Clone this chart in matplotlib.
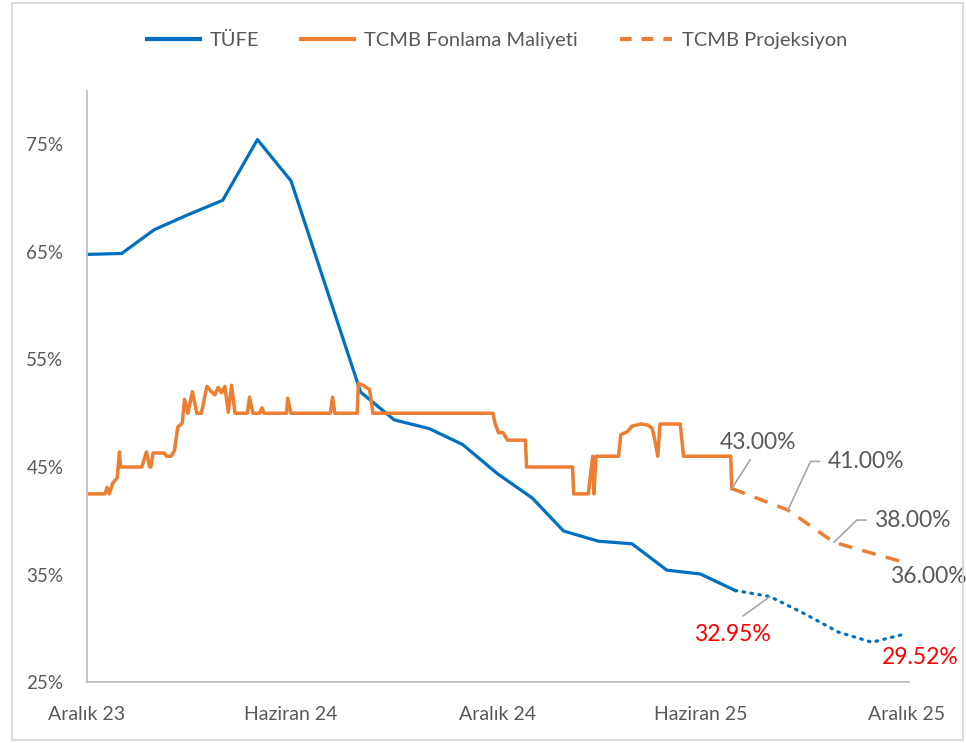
import matplotlib.pyplot as plt
import pandas as pd
from matplotlib.patches import Rectangle
from matplotlib.lines import Line2D

plt.rcParams['font.family'] = ['Lato', 'DejaVu Sans']

# TÜFE (yıllık, ay sonu)
tufe_dates = pd.date_range('2023-12-31', '2025-07-31', freq='ME')
tufe_values = [64.77, 64.86, 67.07, 68.50, 69.80, 75.45, 71.60, 61.78, 51.97, 49.38,
               48.58, 47.09, 44.38, 42.12, 39.05, 38.10, 37.86, 35.41, 35.05, 33.52]

# TÜFE beklenti (noktalı)
tufe_proj_dates = pd.date_range('2025-07-31', '2025-12-31', freq='ME')
tufe_proj_values = [33.52, 32.95, 31.40, 29.65, 28.70, 29.52]

# TCMB ağırlıklı ortalama fonlama maliyeti (günlük)
fonlama_dates = [
    '2023-12-31', '2024-01-16', '2024-01-18', '2024-01-20', '2024-01-23', '2024-01-27',
    '2024-01-29', '2024-01-30', '2024-02-18', '2024-02-22', '2024-02-25', '2024-02-26',
    '2024-02-28', '2024-03-09', '2024-03-11', '2024-03-15', '2024-03-18', '2024-03-21',
    '2024-03-25', '2024-03-27', '2024-03-30', '2024-04-03', '2024-04-07', '2024-04-11',
    '2024-04-16', '2024-04-20', '2024-04-23', '2024-04-26', '2024-04-29', '2024-05-02',
    '2024-05-05', '2024-05-08', '2024-05-11', '2024-05-22', '2024-05-24', '2024-05-27',
    '2024-06-02', '2024-06-04', '2024-06-06', '2024-06-26', '2024-06-27', '2024-06-30',
    '2024-08-04', '2024-08-06', '2024-08-08', '2024-08-28', '2024-08-29', '2024-09-02',
    '2024-09-08', '2024-09-11', '2024-12-27', '2024-12-29', '2025-01-01', '2025-01-05',
    '2025-01-09', '2025-01-25', '2025-01-26', '2025-03-08', '2025-03-09', '2025-03-22',
    '2025-03-26', '2025-03-27', '2025-03-29', '2025-04-18', '2025-04-20', '2025-04-26',
    '2025-04-30', '2025-05-08', '2025-05-14', '2025-05-18', '2025-05-20', '2025-05-23',
    '2025-05-25', '2025-06-12', '2025-06-15', '2025-07-27', '2025-07-28']
fonlama_values = [
    42.5, 42.5, 43.1, 42.5, 43.5, 44.0,
    46.4, 45.0, 45.0, 46.4, 45.0, 45.0,
    46.3, 46.3, 46.0, 46.0, 46.5, 48.7,
    49.1, 51.3, 50.0, 52.0, 50.0, 50.0,
    52.5, 52.0, 51.7, 52.4, 51.9, 52.5,
    50.1, 52.6, 50.0, 50.0, 51.5, 50.0,
    50.0, 50.5, 50.0, 50.0, 51.4, 50.0,
    50.0, 51.5, 50.0, 50.0, 52.8, 52.6,
    52.2, 50.0, 50.0, 49.0, 48.2, 48.2,
    47.5, 47.5, 45.0, 45.0, 42.5, 42.5,
    46.0, 42.5, 46.0, 46.0, 48.0, 48.3,
    48.8, 49.0, 48.9, 48.6, 47.7, 46.0,
    49.0, 49.0, 46.0, 46.0, 43.0]

# TCMB projeksiyon
proj_dates = ['2025-07-28', '2025-09-16', '2025-10-27', '2026-01-02']
proj_values = [43.0, 41.0, 38.0, 36.0]

tick_dates = ['2023-12-31', '2024-06-30', '2024-12-31', '2025-06-30', '2025-12-31']
tick_labels = ['Aralık 23', 'Haziran 24', 'Aralık 24', 'Haziran 25', 'Aralık 25']

blue = '#0070C0'
orange = '#ED7D31'
gray_txt = '#595959'
lead = '#A6A6A6'

fig = plt.figure(figsize=(9.66, 7.43), dpi=100)
ax = fig.add_axes([0.090, 0.082, 0.851, 0.796])

ax.plot(pd.to_datetime(tufe_dates), tufe_values, color=blue, lw=2.3,
        solid_joinstyle='round')
ax.plot(pd.to_datetime(tufe_proj_dates), tufe_proj_values, color=blue, lw=2.3,
        linestyle=(0, (0.5, 2.0)), dash_capstyle='round')
ax.plot(pd.to_datetime(fonlama_dates), fonlama_values, color=orange, lw=2.5)
ax.plot(pd.to_datetime(proj_dates), proj_values, color=orange, lw=2.5,
        linestyle=(0, (4, 3)), clip_on=False)

ax.set_xlim(pd.Timestamp('2023-12-31'), pd.Timestamp('2026-01-02'))
ax.set_ylim(25, 80)
ax.set_yticks([25, 35, 45, 55, 65, 75])
ax.set_yticklabels([f'{v}%' for v in [25, 35, 45, 55, 65, 75]])
ax.set_xticks(pd.to_datetime(tick_dates))
ax.set_xticklabels(tick_labels)
ax.tick_params(axis='both', length=0, colors=gray_txt)
ax.tick_params(axis='y', pad=17, labelsize=13.5)
ax.tick_params(axis='x', pad=17, labelsize=14)
for s in ['top', 'right']:
    ax.spines[s].set_visible(False)
for s in ['left', 'bottom']:
    ax.spines[s].set_color('#BFBFBF')
    ax.spines[s].set_linewidth(1.3)


# etiketler
def label(xd, yv, txt, dx, dy, color=gray_txt, ha='center', elbow=None, rel=None, shrink=2):
    kw = {}
    if elbow is not None:
        kw['arrowprops'] = dict(arrowstyle='-', color=lead, lw=1.2, shrinkA=shrink, shrinkB=0,
                                relpos=rel,
                                connectionstyle=f'angle,angleA=0,angleB={elbow},rad=0')
    elif rel is not None:
        kw['arrowprops'] = dict(arrowstyle='-', color=lead, lw=1.2, shrinkA=shrink, shrinkB=0,
                                relpos=rel)
    ax.annotate(txt, xy=(pd.Timestamp(xd), yv), xytext=(dx, dy), textcoords='offset points',
                ha=ha, va='center', color=color, fontsize=16.5, annotation_clip=False, **kw)


label('2025-07-28', 43.0, '43.00%', 19, 33, rel=(0.45, 0.0), shrink=3)
label('2025-09-16', 41.0, '41.00%', 29, 35, ha='left', elbow=65, rel=(0, 0.5), shrink=4)
label('2025-10-27', 38.0, '38.00%', 29, 16, ha='left', elbow=44, rel=(0, 0.5), shrink=4)
label('2026-01-02', 36.0, '36.00%', 14, -9.5)
label('2025-08-31', 32.95, '32.95%', -27, -27, color='#FF0000', rel=(0.5, 1.0), shrink=6)
label('2025-12-31', 29.52, '29.52%', 10, -17, color='#FF0000')

handles = [Line2D([], [], color=blue, lw=3),
           Line2D([], [], color=orange, lw=3),
           Line2D([], [], color=orange, lw=3, linestyle=(0, (2.8, 2.4)))]
fig.legend(handles, ['TÜFE', 'TCMB Fonlama Maliyeti', 'TCMB Projeksiyon'],
           loc='center', bbox_to_anchor=(0.515, 0.946), ncol=3, frameon=False,
           fontsize=14.5, handlelength=2.6, handletextpad=0.5, columnspacing=2.1,
           labelcolor=gray_txt)

fig.patches.append(Rectangle((12 / 966, 3 / 743), 951 / 966, 737 / 743,
                             transform=fig.transFigure, fill=False,
                             edgecolor='#D9D9D9', lw=1.3))

fig.savefig('out.png', dpi=100)
